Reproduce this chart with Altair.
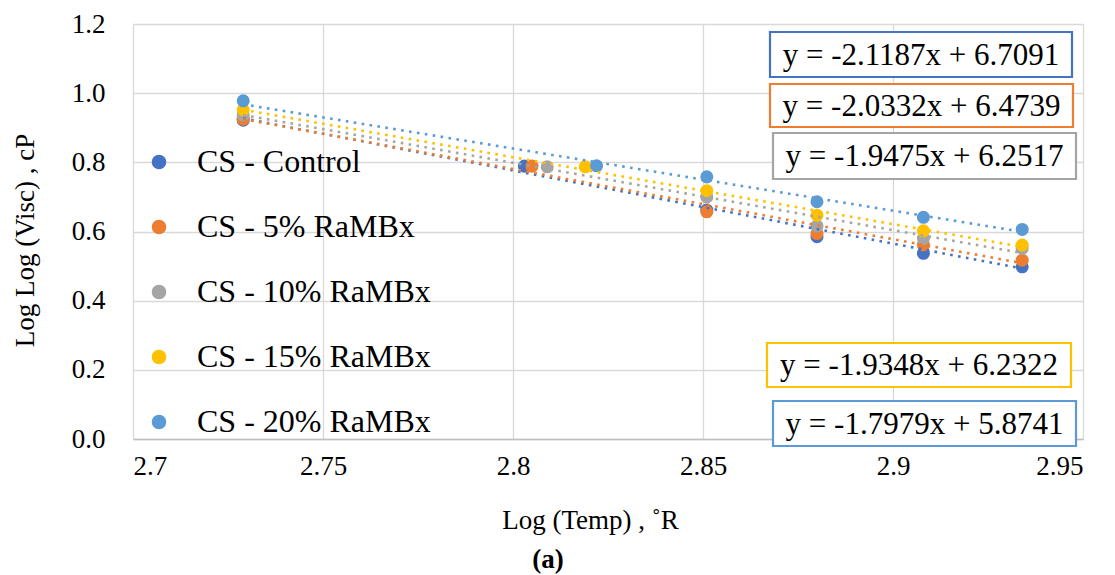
import altair as alt
import pandas as pd

series = ["CS - Control", "CS - 5% RaMBx", "CS - 10% RaMBx", "CS - 15% RaMBx", "CS - 20% RaMBx"]
colors = ["#4472C4", "#ED7D31", "#A5A5A5", "#FFC000", "#5B9BD5"]

x_control = [2.729, 2.803, 2.851, 2.880, 2.908, 2.934]
x_5 = [2.729, 2.805, 2.851, 2.880, 2.908, 2.934]
x_10 = [2.729, 2.809, 2.851, 2.880, 2.908, 2.934]
x_15 = [2.729, 2.819, 2.851, 2.880, 2.908, 2.934]
x_20 = [2.729, 2.822, 2.851, 2.880, 2.908, 2.934]

y_control = [0.922, 0.789, 0.662, 0.585, 0.537, 0.498]
y_5 = [0.925, 0.789, 0.657, 0.594, 0.561, 0.517]
y_10 = [0.937, 0.787, 0.700, 0.616, 0.580, 0.551]
y_15 = [0.952, 0.787, 0.718, 0.647, 0.602, 0.561]
y_20 = [0.978, 0.790, 0.758, 0.686, 0.641, 0.606]

slopes = [-2.1187, -2.0332, -1.9475, -1.9348, -1.7979]
intercepts = [6.7091, 6.4739, 6.2517, 6.2322, 5.8741]
eq_labels = ["y = -2.1187x + 6.7091", "y = -2.0332x + 6.4739", "y = -1.9475x + 6.2517",
             "y = -1.9348x + 6.2322", "y = -1.7979x + 5.8741"]

x_ticks = [2.7, 2.75, 2.8, 2.85, 2.9, 2.95]
y_ticks = [0.0, 0.2, 0.4, 0.6, 0.8, 1.0, 1.2]

xs = [x_control, x_5, x_10, x_15, x_20]
ys = [y_control, y_5, y_10, y_15, y_20]

rows = []
trend = []
for i, s in enumerate(series):
    for xv, yv in zip(xs[i], ys[i]):
        rows.append({"series": s, "order": i, "x": xv, "y": yv})
    for xv in (min(xs[i]), max(xs[i])):
        trend.append({"series": s, "order": i, "x": xv, "y": slopes[i] * xv + intercepts[i]})
df = pd.DataFrame(rows)
tdf = pd.DataFrame(trend)

FONT = "Liberation Serif"
W, H = 950, 415

xscale = alt.Scale(domain=[2.7, 2.95], nice=False, zero=False)
yscale = alt.Scale(domain=[0, 1.2], nice=False)
cscale = alt.Scale(domain=series, range=colors)

xaxis = alt.Axis(values=x_ticks, labelExpr="format(datum.value, '.3~f')", grid=True,
                 domainColor="#BFBFBF", domainWidth=1.5, labelPadding=14,
                 labelFont=FONT, labelFontSize=27, labelColor="#000",
                 title="Log (Temp) , \u02daR",
                 titleX=457, titleY=81, titleBaseline="middle", titleAlign="center")
yaxis = alt.Axis(values=y_ticks, format=".1f", grid=True, domain=False,
                 labelFont=FONT, labelFontSize=27, labelColor="#000",
                 labelPadding=28, title="Log Log (Visc) , cP", titleX=-108, titleY=216,
                 titleAngle=270, titleBaseline="middle", titleAlign="center")

points = alt.Chart(df).mark_circle(size=170, opacity=1).encode(
    x=alt.X("x:Q", scale=xscale, axis=xaxis),
    y=alt.Y("y:Q", scale=yscale, axis=yaxis),
    color=alt.Color("series:N", scale=cscale, sort=series, legend=alt.Legend(
        title=None, orient="none", legendX=10, legendY=122, labelFont=FONT, labelFontSize=32,
        labelColor="#000", symbolType="circle", symbolSize=170, rowPadding=33, labelOffset=22,
        padding=0, labelLimit=400)),
    order=alt.Order("order:Q"),
)

lines = alt.Chart(tdf).mark_line(strokeWidth=2.6, strokeDash=[2.6, 5.4]).encode(
    x=alt.X("x:Q", scale=xscale, axis=xaxis),
    y=alt.Y("y:Q", scale=yscale, axis=yaxis),
    detail="series:N",
    color=alt.Color("series:N", scale=cscale, legend=None),
)

box_df = pd.DataFrame({
    "label": eq_labels,
    "col": colors,
    "x1": [637, 637, 640, 634, 640],
    "x2": [939, 940, 943, 938, 943],
    "y1": [8, 60, 109, 319, 377],
    "y2": [53, 103, 155, 363, 422],
})
box_df["xc"] = (box_df["x1"] + box_df["x2"]) / 2
box_df["yc"] = (box_df["y1"] + box_df["y2"]) / 2 + 1

layers = [points, lines]
for _, r in box_df.iterrows():
    rect = alt.Chart(pd.DataFrame({"k": [0]})).mark_rect(fill="white", stroke=r["col"], strokeWidth=2.2).encode(
        x=alt.value(float(r["x1"])), x2=alt.value(float(r["x2"])),
        y=alt.value(float(r["y1"])), y2=alt.value(float(r["y2"])))
    txt = alt.Chart(pd.DataFrame({"t": [r["label"]]})).mark_text(
        font=FONT, fontSize=31, color="#000", align="center", baseline="middle").encode(
        x=alt.value(float(r["xc"])), y=alt.value(float(r["yc"])), text="t:N")
    layers += [rect, txt]

cap = alt.Chart(pd.DataFrame({"t": ["(a)"]})).mark_text(
    font=FONT, fontSize=27, fontWeight="bold", color="#000", align="center", baseline="middle").encode(
    x=alt.value(415), y=alt.value(536), text="t:N")
layers.append(cap)

chart = alt.layer(*layers).properties(
    width=W, height=H,
    autosize=alt.AutoSizeParams(type="none"),
    padding={"left": 133, "top": 24, "right": 32, "bottom": 136},
).configure_view(stroke=None).configure(background="white").configure_axis(
    labelFont=FONT, labelFontSize=27, labelColor="#000", titleFont=FONT, titleFontSize=27,
    titleFontWeight="normal", titleColor="#000", gridColor="#D9D9D9", gridWidth=1.3, ticks=False
)

chart.save("out.html", embed_options={"renderer": "svg", "actions": False})
